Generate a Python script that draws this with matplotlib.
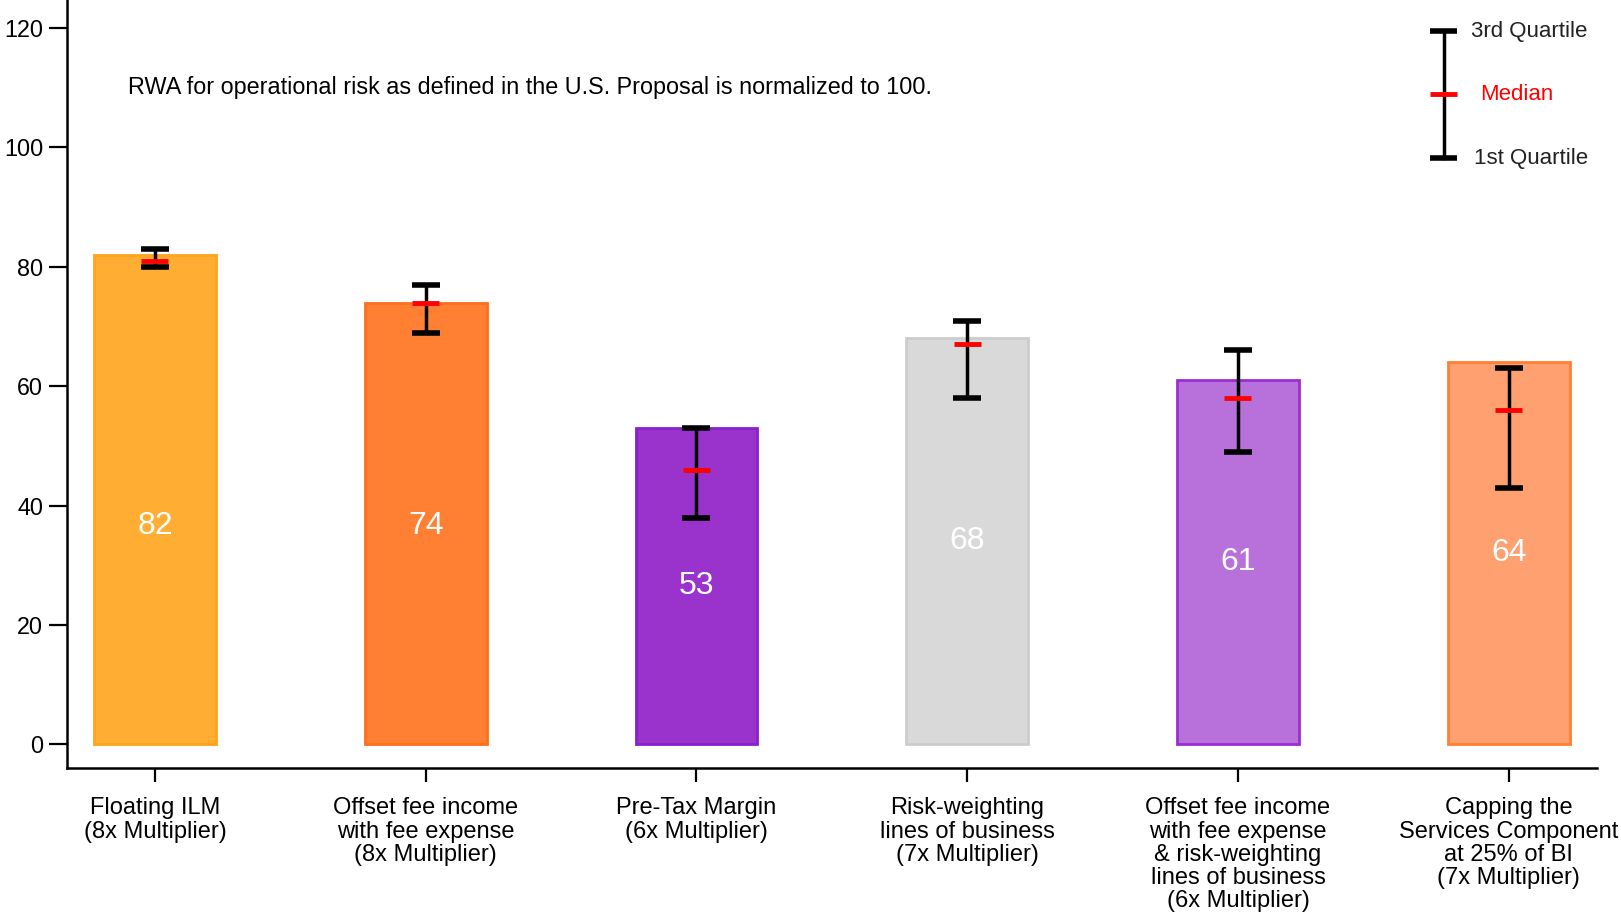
"""
Bar chart of normalized operational-risk RWA under alternative calibrations,
with interquartile ranges and medians drawn on each bar.
"""

#####################################
# Import Modules
#####################################

import matplotlib
matplotlib.use("Agg")
import matplotlib.pyplot as plt
import numpy as np

#####################################
# Declare Global Variables
#####################################

categories = [
    "Floating ILM\n(8x Multiplier)",
    "Offset fee income\nwith fee expense\n(8x Multiplier)",
    "Pre-Tax Margin\n(6x Multiplier)",
    "Risk-weighting\nlines of business\n(7x Multiplier)",
    "Offset fee income\nwith fee expense\n& risk-weighting\nlines of business\n(6x Multiplier)",
    "Capping the\nServices Component\nat 25% of BI\n(7x Multiplier)",
]
values = [82, 74, 53, 68, 61, 64]
first_quartile = [80, 69, 38, 58, 49, 43]
medians = [81, 74, 46, 67, 58, 56]
third_quartile = [83, 77, 53, 71, 66, 63]

fill_colors = ["#FFAE33", "#FF7F33", "#9933CC", "#D9D9D9", "#B870DB", "#FFA070"]
edge_colors = ["#FFA31A", "#FF6E1A", "#8A1FCC", "#CCCCCC", "#9A2ED1", "#FF7F33"]

yticks = [0, 20, 40, 60, 80, 100, 120]
note_text = "RWA for operational risk as defined in the U.S. Proposal is normalized to 100."

plt.rcParams["font.family"] = ["Liberation Sans", "DejaVu Sans"]

#####################################
# Build Figure
#####################################

fig = plt.figure(figsize=(16.21, 9.19), dpi=100)
ax = fig.add_axes([0.0413, 0.164, 0.9437, 0.836])

x = np.arange(len(categories))
ax.bar(x, values, width=0.45, color=fill_colors, edgecolor=edge_colors,
       linewidth=2, zorder=2)

# Interquartile range as error bars, median as a red dash
centers = np.array(medians, dtype=float)
lower = centers - np.array(first_quartile)
upper = np.array(third_quartile) - centers
ax.errorbar(x, centers, yerr=[lower, upper], fmt="none", ecolor="black",
            elinewidth=2.5, capsize=10, capthick=4, zorder=3)
ax.hlines(medians, x - 0.05, x + 0.05, colors="red", linewidth=3.5, zorder=4)

# Value labels inside bars
for xi, v in zip(x, values):
    ax.text(xi, min(v / 2, 36.6), str(v), ha="center", va="center",
            color="white", fontsize=23, zorder=5)

ax.text(-0.1, 110, note_text, fontsize=16.8, ha="left", va="center")

#####################################
# Axes styling
#####################################

ax.set_xlim(-0.325, 5.325)
ax.set_ylim(-4, 124.7)
ax.set_yticks(yticks)
ax.set_xticks(x)
ax.set_xticklabels(categories, fontsize=17, linespacing=1.07)
ax.tick_params(axis="y", labelsize=16.8, length=13, width=1.6, pad=4)
ax.tick_params(axis="x", length=10, width=1.6, pad=11)
for side in ["top", "right"]:
    ax.spines[side].set_visible(False)
for side in ["left", "bottom"]:
    ax.spines[side].set_linewidth(1.8)

#####################################
# Custom legend (top right)
#####################################

lx, half = 0.900, 0.0088
y_top, y_mid, y_bot = 0.9596, 0.8776, 0.794
ax.plot([lx, lx], [y_bot, y_top], color="black", lw=2.5,
        transform=ax.transAxes, clip_on=False)
for yy in (y_top, y_bot):
    ax.plot([lx - half, lx + half], [yy, yy], color="black", lw=4,
            transform=ax.transAxes, clip_on=False, solid_capstyle="butt")
ax.plot([lx - half, lx + half], [y_mid, y_mid], color="red", lw=3.5,
        transform=ax.transAxes, clip_on=False, solid_capstyle="butt")
ax.text(0.918, y_top, "3rd Quartile", transform=ax.transAxes, fontsize=16,
        ha="left", va="center", color="#222222")
ax.text(0.924, y_mid, "Median", transform=ax.transAxes, fontsize=16,
        ha="left", va="center", color="red")
ax.text(0.9196, y_bot, "1st Quartile", transform=ax.transAxes, fontsize=16,
        ha="left", va="center", color="#222222")

fig.savefig("out.png", dpi=100)
